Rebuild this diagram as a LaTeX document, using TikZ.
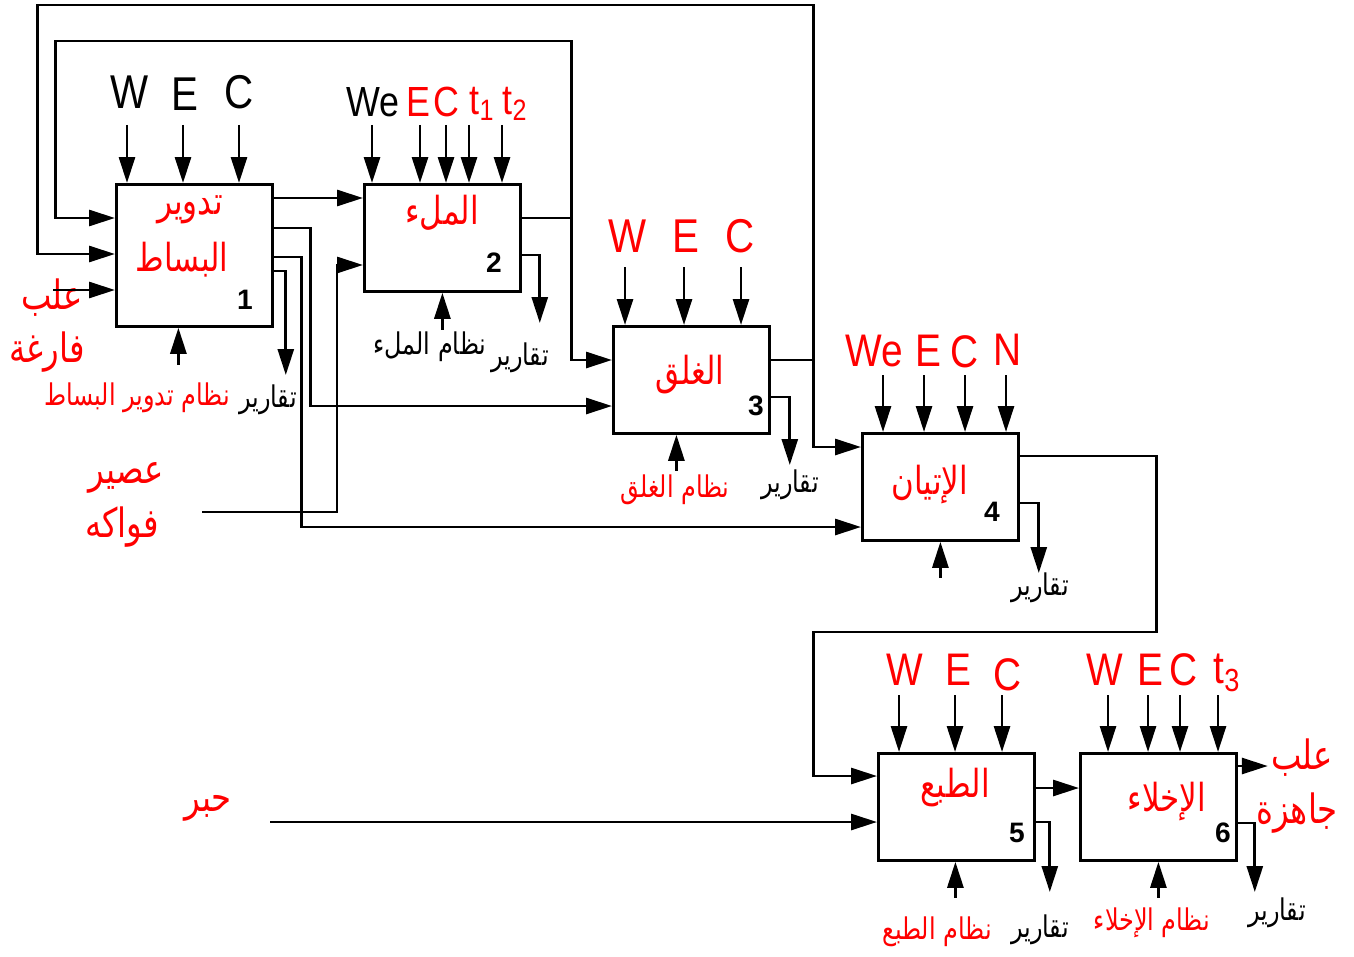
\documentclass[tikz,border=0pt]{standalone}
\usepackage{fontspec}
\setmainfont{Liberation Sans}
\newfontfamily\ctlfont[FakeStretch=0.85]{Liberation Sans}
\newfontfamily\arabicfont[Script=Arabic,FakeStretch=0.8]{DejaVu Sans}
\TeXXeTstate=1
\usepackage{tikz}
\usetikzlibrary{arrows.meta,calc}
\newcommand{\rtl}[1]{\beginR #1\endR}
\tikzset{
  proc/.style={draw, line width=1.6pt, minimum width=3.12cm, minimum height=2.14cm,
               inner sep=0pt, anchor=north west},
  flow/.style={line width=1.6pt},
  arr/.style={flow, -{Triangle[length=5.2mm,width=3.2mm]}},
  ctl/.style={inner sep=0pt, font=\ctlfont\fontsize{27}{30}\selectfont},
  ctlsmall/.style={ctl, font=\ctlfont\fontsize{24}{26}\selectfont},
  ctlmid/.style={ctl, font=\ctlfont\fontsize{26}{28}\selectfont},
  boxname/.style={inner sep=0pt, text=red, font=\arabicfont\fontsize{22}{24}\selectfont},
  boxnum/.style={inner sep=0pt, font=\bfseries\fontsize{16}{18}\selectfont},
  note/.style={inner sep=0pt, font=\arabicfont\fontsize{17}{19}\selectfont},
  stock/.style={inner sep=0pt, text=red, font=\arabicfont\fontsize{23}{26}\selectfont},
}
\begin{document}
\begin{tikzpicture}[x=0.02cm,y=-0.02cm]
\useasboundingbox (0,0) rectangle (1354,956);

% activity boxes
\node[proc, minimum height=2.84cm] (b1) at (115,183) {};
\node[proc] (b2) at (363,183) {};
\node[proc] (b3) at (612,325) {};
\node[proc] (b4) at (861,432) {};
\node[proc] (b5) at (877,752) {};
\node[proc] (b6) at (1079,752) {};

% box titles and numbers
\node[boxname] (n1a) at (190,210) {\rtl{تدوير}};
\node[boxname] (n1b) at (182,260) {\rtl{البساط}};
\node[boxnum] (k1) at (245,300) {1};
\node[boxname] (n2) at (442,213) {\rtl{الملء}};
\node[boxnum] (k2) at (494,263) {2};
\node[boxname] (n3) at (690,375) {\rtl{الغلق}};
\node[boxnum] (k3) at (756,406) {3};
\node[boxname] (n4) at (930,485) {\rtl{الإتيان}};
\node[boxnum] (k4) at (992,512) {4};
\node[boxname] (n5) at (955,788) {\rtl{الطبع}};
\node[boxnum] (k5) at (1017,833) {5};
\node[boxname] (n6) at (1167,802) {\rtl{الإخلاء}};
\node[boxnum] (k6) at (1223,833) {6};

% control letters
\node[ctl] (w1) at (130,92) {W};
\node[ctl] (e1) at (185,94) {E};
\node[ctl] (c1) at (239,92) {C};
\node[ctlsmall] (w2) at (373,102) {We};
\node[ctlsmall, text=red] (e2) at (418,102) {E};
\node[ctlsmall, text=red] (c2) at (446,102) {C};
\node[ctlsmall, text=red] (ta) at (482,104) {t\textsubscript{1}};
\node[ctlsmall, text=red] (tb) at (515,104) {t\textsubscript{2}};
\node[ctl, text=red] (w3) at (628,236) {W};
\node[ctl, text=red] (e3) at (686,236) {E};
\node[ctl, text=red] (c3) at (740,236) {C};
\node[ctlmid, text=red] (w4) at (874,351) {We};
\node[ctlmid, text=red] (e4) at (928,351) {E};
\node[ctlmid, text=red] (c4) at (965,352) {C};
\node[ctlmid, text=red] (m4) at (1008,350) {N};
\node[ctlmid, text=red] (w5) at (905,670) {W};
\node[ctlmid, text=red] (e5) at (958,670) {E};
\node[ctlmid, text=red] (c5) at (1008,675) {C};
\node[ctlmid, text=red] (w6) at (1105,670) {W};
\node[ctlmid, text=red] (e6) at (1150,670) {E};
\node[ctlmid, text=red] (c6) at (1183,670) {C};
\node[ctlmid, text=red] (tc) at (1227,673) {t\textsubscript{3}};

% outside labels
\node[stock] (empty1) at (52,298) {\rtl{علب}};
\node[stock] (empty2) at (47,352) {\rtl{فارغة}};
\node[stock] (juice1) at (126,478) {\rtl{عصير}};
\node[stock] (juice2) at (122,527) {\rtl{فواكه}};
\node[stock] (ink) at (208,808) {\rtl{حبر}};
\node[stock] (full1) at (1302,758) {\rtl{علب}};
\node[stock] (full2) at (1297,813) {\rtl{جاهزة}};
\node[note, text=red] (m1) at (137,398) {\rtl{نظام تدوير البساط}};
\node[note] (r1) at (268,400) {\rtl{تقارير}};
\node[note] (m2) at (430,347) {\rtl{نظام الملء}};
\node[note] (r2) at (520,358) {\rtl{تقارير}};
\node[note, text=red] (m3) at (675,490) {\rtl{نظام الغلق}};
\node[note] (r3) at (790,485) {\rtl{تقارير}};
\node[note] (r4) at (1040,588) {\rtl{تقارير}};
\node[note, text=red] (m5) at (937,932) {\rtl{نظام الطبع}};
\node[note] (r5) at (1040,930) {\rtl{تقارير}};
\node[note, text=red] (m6) at (1152,923) {\rtl{نظام الإخلاء}};
\node[note] (r6) at (1277,913) {\rtl{تقارير}};

% ports
\coordinate (i1a) at ($(b1.north west)+(0,35)$);
\coordinate (i1b) at ($(b1.north west)+(0,71)$);
\coordinate (i1c) at ($(b1.north west)+(0,107)$);
\coordinate (o1a) at ($(b1.north east)+(0,15)$);
\coordinate (o1b) at ($(b1.north east)+(0,45)$);
\coordinate (o1c) at ($(b1.north east)+(0,74)$);
\coordinate (o1d) at ($(b1.north east)+(0,88)$);
\coordinate (i2b) at ($(b2.north west)+(0,82)$);
\coordinate (o2a) at ($(b2.north east)+(0,35)$);
\coordinate (o2b) at ($(b2.north east)+(0,72)$);
\coordinate (i3a) at ($(b3.north west)+(0,35)$);
\coordinate (i3b) at ($(b3.north west)+(0,81)$);
\coordinate (o3a) at ($(b3.north east)+(0,35)$);
\coordinate (o3b) at ($(b3.north east)+(0,72)$);
\coordinate (i4a) at ($(b4.north west)+(0,15)$);
\coordinate (i4b) at ($(b4.north west)+(0,95)$);
\coordinate (o4a) at ($(b4.north east)+(0,24)$);
\coordinate (o4b) at ($(b4.north east)+(0,71)$);
\coordinate (i5a) at ($(b5.north west)+(0,24)$);
\coordinate (i5b) at ($(b5.north west)+(0,70)$);
\coordinate (o5a) at ($(b5.north east)+(0,36)$);
\coordinate (o5b) at ($(b5.north east)+(0,70)$);
\coordinate (o6a) at ($(b6.north east)+(0,14)$);
\coordinate (o6b) at ($(b6.north east)+(0,71)$);
\coordinate (juicein) at (202,512);
\coordinate (inkin) at (270,822);

% controls from above
\draw[arr] (b1.north west) ++(12,-58) -- ++(0,58);
\draw[arr] (b1.north west) ++(68,-58) -- ++(0,58);
\draw[arr] (b1.north west) ++(124,-58) -- ++(0,58);
\draw[arr] (b2.north west) ++(9,-58) -- ++(0,58);
\draw[arr] (b2.north west) ++(57,-58) -- ++(0,58);
\draw[arr] (b2.north west) ++(83,-58) -- ++(0,58);
\draw[arr] (b2.north west) ++(106,-58) -- ++(0,58);
\draw[arr] (b2.north west) ++(139,-58) -- ++(0,58);
\draw[arr] (b3.north west) ++(13,-58) -- ++(0,58);
\draw[arr] (b3.north west) ++(72,-58) -- ++(0,58);
\draw[arr] (b3.north west) ++(129,-58) -- ++(0,58);
\draw[arr] (b4.north west) ++(22,-57) -- ++(0,57);
\draw[arr] (b4.north west) ++(63,-57) -- ++(0,57);
\draw[arr] (b4.north west) ++(104,-57) -- ++(0,57);
\draw[arr] (b4.north west) ++(145,-57) -- ++(0,57);
\draw[arr] (b5.north west) ++(22,-57) -- ++(0,57);
\draw[arr] (b5.north west) ++(78,-57) -- ++(0,57);
\draw[arr] (b5.north west) ++(125,-57) -- ++(0,57);
\draw[arr] (b6.north west) ++(29,-57) -- ++(0,57);
\draw[arr] (b6.north west) ++(69,-57) -- ++(0,57);
\draw[arr] (b6.north west) ++(101,-57) -- ++(0,57);
\draw[arr] (b6.north west) ++(139,-57) -- ++(0,57);

% mechanisms from below
\draw[arr] (b1.south) ++(-16,37) -- ++(0,-37);
\draw[arr] (b2.south) ++(0,37) -- ++(0,-37);
\draw[arr] (b3.south) ++(-15,36) -- ++(0,-36);
\draw[arr] (b4.south) ++(0,36) -- ++(0,-36);
\draw[arr] (b5.south) ++(-1,36) -- ++(0,-36);
\draw[arr] (b6.south) ++(0,36) -- ++(0,-36);

% flows
\draw[arr] (i1c) ++(-62,0) -- (i1c);
\draw[arr] (o1a) -- (o1a -| b2.west);
\draw[arr] (o1b) -- ++(37,0) |- (i3b);
\draw[arr] (o1c) -- ++(28,0) |- (i4b);
\draw[arr] (o1d) -- ++(12,0) -- ++(0,104);
\draw[arr] (juicein) -- ++(135,0) |- (i2b);
\draw[arr] (o2a) -- ++(50,0) |- ++(-516,-177) |- (i1a);
\draw[arr] (o2a) -- ++(50,0) |- (i3a);
\draw[arr] (o2b) -- ++(18,0) -- ++(0,68);
\draw[arr] (o3a) -- ++(43,0) |- ++(-776,-355) |- (i1b);
\draw[arr] (o3a) -- ++(43,0) |- (i4a);
\draw[arr] (o3b) -- ++(19,0) -- ++(0,68);
\draw[arr] (o4a) -- ++(137,0) |- ++(-343,176) |- (i5a);
\draw[arr] (o4b) -- ++(19,0) -- ++(0,70);
\draw[arr] (inkin) -- (i5b);
\draw[arr] (o5a) -- (o5a -| b6.west);
\draw[arr] (o5b) -- ++(14,0) -- ++(0,70);
\draw[arr] (o6a) -- ++(30,0);
\draw[arr] (o6b) -- ++(17,0) -- ++(0,69);
\end{tikzpicture}
\end{document}
